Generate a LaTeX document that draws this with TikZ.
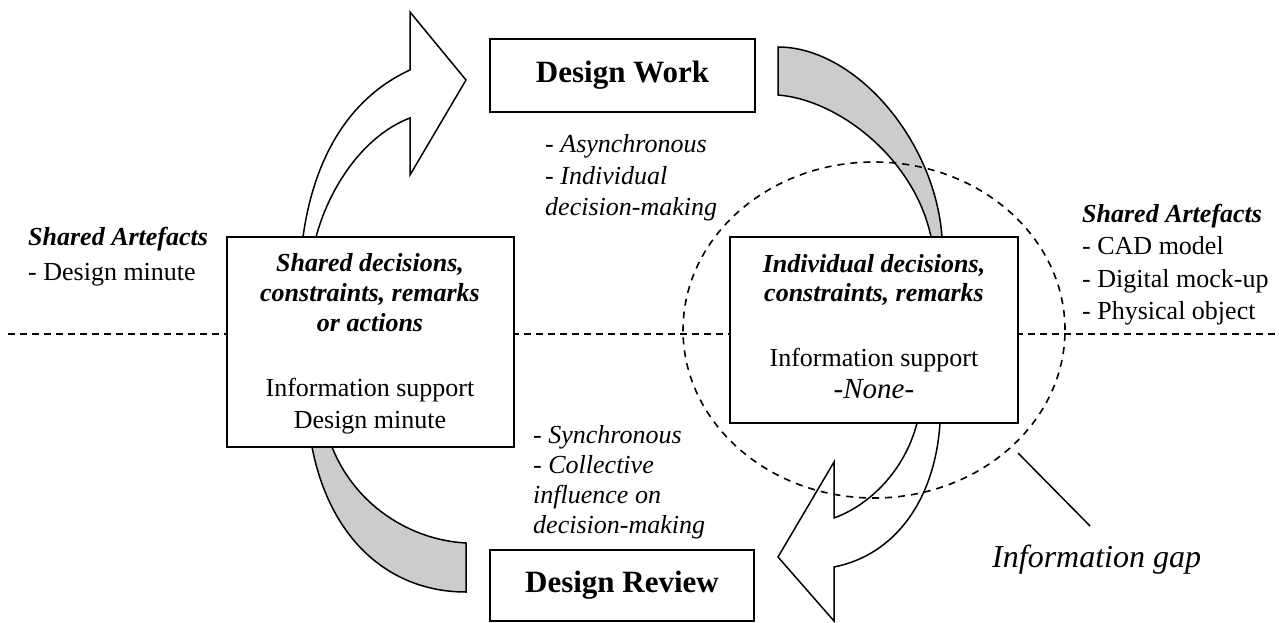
\documentclass[tikz,border=0pt]{standalone}
\usepackage{fontspec}
\setmainfont{Liberation Serif}
\usetikzlibrary{calc}
\begin{document}
\begin{tikzpicture}[x=1pt,y=-1pt,
  box/.style={draw, line width=1.8pt, fill=white, inner sep=0pt},
  blockarrow/.style={draw, fill=white, line width=1.5pt, line join=miter},
  band/.style={draw, fill=black!20, line width=1.5pt},
  dashline/.style={line width=1.6pt, dash pattern=on 7pt off 5pt},
  gapline/.style={line width=1.5pt},
  ln/.style={inner sep=0pt, anchor=base},
  lnw/.style={inner sep=0pt, anchor=base west},
  rm/.style={font=\fontsize{26}{30}\selectfont},
  it/.style={font=\itshape\fontsize{26}{30}\selectfont},
  bi/.style={font=\bfseries\itshape\fontsize{26}{30}\selectfont},
  title/.style={font=\bfseries\fontsize{31}{36}\selectfont}]
\useasboundingbox (0,0) rectangle (1279,623);

% horizontal dashed separator
\coordinate (hl) at (8,334);
\coordinate (hr) at (1279,334);
\draw[dashline] (hl) -- (hr);

% top-left block arrow (shared -> design work)
\draw[blockarrow] (303,237) .. controls (315,150) and (355,95) .. (410,70)
  -- (410,12) -- (466,80) -- (410,175) -- (410,118)
  .. controls (365,135) and (330,185) .. (316,237) -- cycle;

% top-right grey band (design work -> individual)
\draw[band] (778,47) .. controls (855,47) and (935,140) .. (942,237)
  -- (931,237) .. controls (915,160) and (840,100) .. (778,95) -- cycle;

% bottom-right block arrow (individual -> design review)
\draw[blockarrow] (917,423) .. controls (905,470) and (870,505) .. (834,518)
  -- (834,462) -- (778,557) -- (834,621) -- (834,567)
  .. controls (895,555) and (935,500) .. (940,423) -- cycle;

% bottom-left grey band (shared <- design review)
\draw[band] (312,447) .. controls (330,540) and (390,592) .. (466,592)
  -- (466,543) .. controls (410,540) and (355,505) .. (332,447) -- cycle;

% boxes
\node[box, title, minimum width=265pt, minimum height=73pt] (work) at (622.5,75.5) {Design Work};
\node[box, title, minimum width=264pt, minimum height=71pt] (review) at (622,585.5) {Design Review};
\node[box, minimum width=287pt, minimum height=210pt] (lbox) at (370.5,342) {};
\node[box, minimum width=288pt, minimum height=186pt] (rbox) at (874,330) {};

% left box text
\node[ln, bi] (l1) at (370,271) {Shared decisions,};
\node[ln, bi] (l2) at (370,301) {constraints, remarks};
\node[ln, bi] (l3) at (370,331) {or actions};
\node[ln, rm] (l4) at (370,396) {Information support};
\node[ln, rm] (l5) at (370,428) {Design minute};

% right box text
\node[ln, bi] (r1) at (874,272) {Individual decisions,};
\node[ln, bi] (r2) at (874,301) {constraints, remarks};
\node[ln, rm] (r3) at (874,366) {Information support};
\node[ln, font=\itshape\fontsize{29}{34}\selectfont] (r4) at (874,398) {-None-};

% side artefacts
\node[lnw, bi] (la1) at (28,245) {Shared Artefacts};
\node[lnw, rm] (la2) at (28,280) {- Design minute};
\node[lnw, bi] (ra1) at (1082,222) {Shared Artefacts};
\node[lnw, rm] (ra2) at (1082,254) {- CAD model};
\node[lnw, rm] (ra3) at (1082,287) {- Digital mock-up};
\node[lnw, rm] (ra4) at (1082,319) {- Physical object};

% middle annotations
\node[lnw, it] (a1) at (545,153) {- Asynchronous};
\node[lnw, it] (a2) at (545,184) {- Individual};
\node[lnw, it] (a3) at (545,215) {decision-making};
\node[lnw, it] (s1) at (533,443) {- Synchronous};
\node[lnw, it] (s2) at (533,473) {- Collective};
\node[lnw, it] (s3) at (533,503) {influence on};
\node[lnw, it] (s4) at (533,533) {decision-making};

% information gap
\draw[dashline, dash pattern=on 7pt off 6pt] (874,330) ellipse [x radius=191pt, y radius=168pt];
\node[lnw, font=\itshape\fontsize{32}{36}\selectfont] (gap) at (992,567) {Information gap};
\coordinate (gapa) at (1018,453);
\coordinate (gapb) at (1090,526);
\draw[gapline] (gapa) -- (gapb);
\end{tikzpicture}
\end{document}
